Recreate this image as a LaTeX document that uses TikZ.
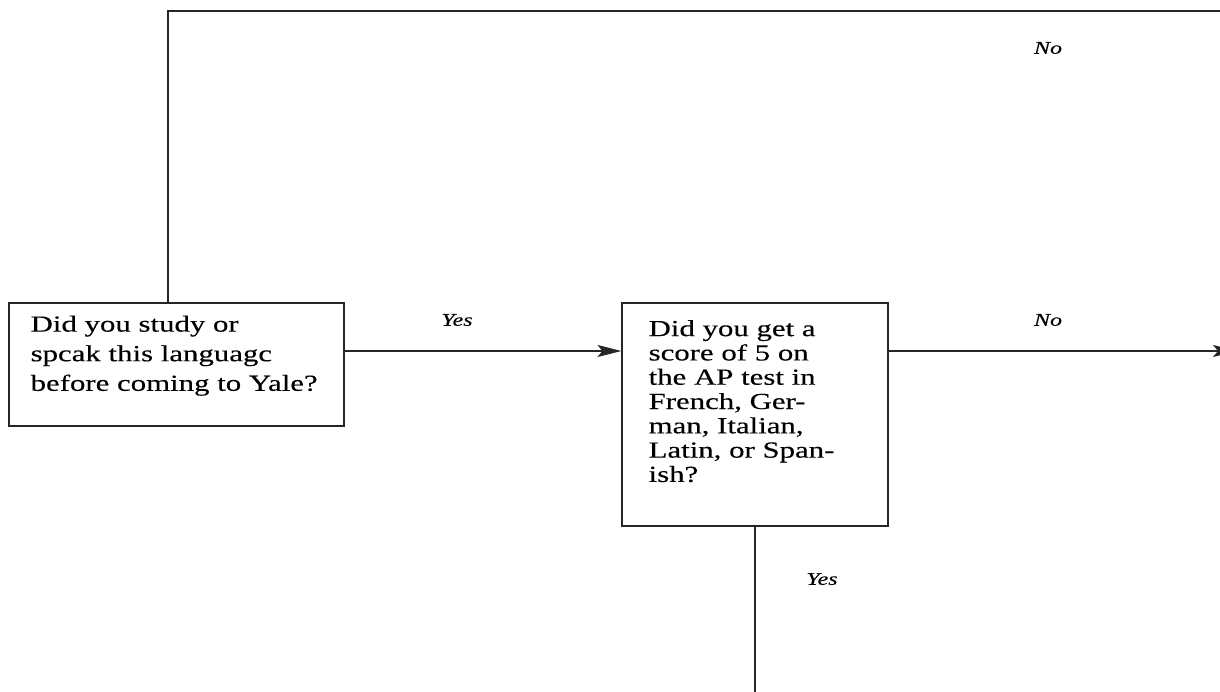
\documentclass[tikz,border=0pt]{standalone}
\usepackage{fontspec}
\setmainfont{Liberation Serif}
\newfontfamily\qfont[FakeStretch=1.34,FakeBold=0.3]{Liberation Serif}
\usetikzlibrary{arrows.meta,calc}
\begin{document}
\begin{tikzpicture}[x=1pt,y=-1pt,
  qbox/.style={draw=black!85, line width=1.1pt, inner sep=0pt},
  qtext/.style={font=\qfont\fontsize{23}{29.6}\selectfont, align=left, inner sep=0pt, anchor=north west},
  ans/.style={font=\qfont\itshape\fontsize{18}{21}\selectfont, inner sep=0pt},
  conn/.style={draw=black!85, line width=1.1pt},
  arr/.style={conn, -{Stealth[length=24pt,width=12pt,inset=5pt]}}]
\useasboundingbox (0,0) rectangle (1220,692);
\node[qbox, minimum width=335pt, minimum height=123pt] (q1) at (176.5,364.5) {};
\node[qbox, minimum width=266pt, minimum height=223pt] (q2) at (755,414.5) {};
\node[qtext] (q1t) at ($(q1.north west)+(22,13)$) {Did you study or\\spcak this languagc\\before coming to Yale?};
\node[qtext, font=\qfont\fontsize{23}{24.3}\selectfont] (q2t) at ($(q2.north west)+(27,17.5)$) {Did you get a\\score of 5 on\\the AP test in\\French, Ger-\\man, Italian,\\Latin, or Span-\\ish?};
\coordinate (tl) at (168,11);
\coordinate (tr) at (1220,11);
\coordinate (re) at (1237,351);
\coordinate (be) at (755,692);
\draw[conn] (q1.north -| tl) -- (tl) -- (tr);
\draw[arr] (q1.east |- re) -- (q2.west |- re);
\draw[arr] (q2.east |- re) -- (re);
\draw[conn] (q2.south) -- (be);
\node[ans] (n1) at (1048,48) {No};
\node[ans] (y1) at (457,320) {Yes};
\node[ans] (n2) at (1048,320) {No};
\node[ans] (y2) at (822,579) {Yes};
\end{tikzpicture}
\end{document}
